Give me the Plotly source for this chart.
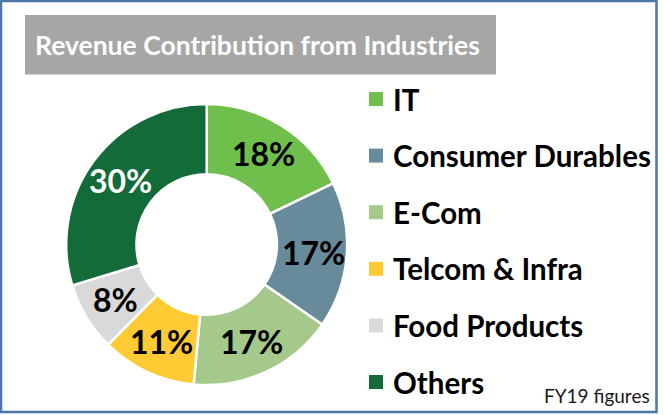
import math
import plotly.graph_objects as go

categories = ["IT", "Consumer Durables", "E-Com", "Telcom & Infra", "Food Products", "Others"]
values = [18, 17, 17, 11, 8, 30]
colors = ["#70bf4d", "#678b9a", "#a5c98a", "#ffca33", "#d9d9d9", "#126b39"]
label_colors = ["black", "black", "black", "black", "black", "white"]
title_text = "Revenue Contribution from Industries"
note_text = "FY19 figures"

W, H = 664, 415
FONT = "Lato"

def px_x(x):
    return x / W

def px_y(y):
    return 1 - y / H

cx, cy, r = 206.7, 244.5, 140.5
hole = 0.5

fig = go.Figure()
fig.add_trace(go.Pie(
    labels=categories,
    values=values,
    sort=False,
    direction="clockwise",
    rotation=0,
    hole=hole,
    marker=dict(colors=colors, line=dict(color="white", width=2.5)),
    textinfo="none",
    domain=dict(x=[px_x(cx - r), px_x(cx + r)], y=[px_y(cy + r), px_y(cy - r)]),
    showlegend=False,
    hoverinfo="label+value",
))

shapes = [
    dict(type="rect", xref="paper", yref="paper",
         x0=px_x(1), x1=px_x(656.5), y0=px_y(412), y1=px_y(1),
         line=dict(color="#4a76a8", width=2.5), fillcolor="rgba(0,0,0,0)", layer="above"),
    dict(type="rect", xref="paper", yref="paper",
         x0=px_x(25), x1=px_x(496), y0=px_y(74.5), y1=px_y(15),
         line=dict(width=0), fillcolor="#a6a6a6", layer="below"),
]
annotations = [
    dict(text=title_text, xref="paper", yref="paper", x=px_x(257), y=px_y(45),
         xanchor="center", yanchor="middle", showarrow=False,
         font=dict(family=FONT, size=26.5, color="white", weight="bold")),
    dict(text=note_text, xref="paper", yref="paper", x=px_x(652), y=px_y(395),
         xanchor="right", yanchor="middle", showarrow=False,
         font=dict(family=FONT, size=19, color="#1a1a1a")),
]

# slice labels at the middle of each ring segment (angle from the data)
total = sum(values)
label_r = r * (1 + hole) / 2 + 1.5
cum = 0
for v, tc in zip(values, label_colors):
    mid = (cum + v / 2) / total * 2 * math.pi
    cum += v
    lx = cx + label_r * math.sin(mid)
    ly = cy - label_r * math.cos(mid)
    annotations.append(dict(text=f"{v}%", xref="paper", yref="paper", x=px_x(lx), y=px_y(ly),
                            xanchor="center", yanchor="middle", showarrow=False,
                            font=dict(family=FONT, size=32, color=tc, weight="bold")))

row0, gap = 99, 56.6
for i, (cat, col) in enumerate(zip(categories, colors)):
    yc = row0 + i * gap
    shapes.append(dict(type="rect", xref="paper", yref="paper",
                       x0=px_x(369), x1=px_x(383), y0=px_y(yc + 7), y1=px_y(yc - 7),
                       line=dict(width=0), fillcolor=col))
    annotations.append(dict(text=cat, xref="paper", yref="paper", x=px_x(391), y=px_y(yc),
                            xanchor="left", yanchor="middle", showarrow=False,
                            font=dict(family=FONT, size=29.5, color="black", weight="bold")))

fig.update_layout(
    width=W, height=H,
    margin=dict(l=0, r=0, t=0, b=0),
    paper_bgcolor="white",
    plot_bgcolor="white",
    shapes=shapes,
    annotations=annotations,
)

fig.write_html("out.html", config={"displayModeBar": False},
               post_script="document.body.style.margin='0';document.body.style.padding='0';")
